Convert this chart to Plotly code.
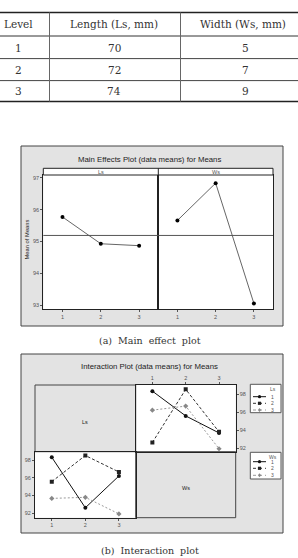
import plotly.graph_objects as go

W, H = 298, 558

# ---------------- data ----------------
table_header = ["Level", "Length (Ls, mm)", "Width (Ws, mm)"]
levels = ["1", "2", "3"]
lengths = ["70", "72", "74"]
widths = ["5", "7", "9"]

level_idx = [1, 2, 3]
main_ls = [95.77, 94.93, 94.87]
main_ws = [95.66, 96.83, 93.06]
grand_mean = 95.19

# interaction means: rows = Ls level, cols = Ws level
inter_ls1 = [98.32, 95.57, 93.68]
inter_ls2 = [92.62, 98.52, 93.80]
inter_ls3 = [96.21, 96.66, 91.93]
inter = [inter_ls1, inter_ls2, inter_ls3]
series_labels = ["1", "2", "3"]


def px(x):
    return x / W


def py(y):
    return 1 - y / H


fig = go.Figure()

BG = "#e3e3e3"
TXT = "#222222"
TICK = "#555555"
SANS = "Liberation Sans, Arial, sans-serif"
SERIF = "DejaVu Serif, serif"

styles = [
    dict(color="#111111", dash="solid", symbol="circle", mcolor="#111111"),
    dict(color="#333333", dash="3px,2px", symbol="square", mcolor="#222222"),
    dict(color="#999999", dash="2px,2px", symbol="diamond", mcolor="#888888"),
]

# ---------------- main effects ----------------
fig.add_trace(go.Scatter(x=level_idx, y=main_ls, mode="lines+markers",
                         line=dict(color="#666666", width=1),
                         marker=dict(color="#000000", size=4),
                         xaxis="x", yaxis="y", showlegend=False))
fig.add_trace(go.Scatter(x=level_idx, y=main_ws, mode="lines+markers",
                         line=dict(color="#666666", width=1),
                         marker=dict(color="#000000", size=4),
                         xaxis="x2", yaxis="y2", showlegend=False))

# ---------------- interaction ----------------
# top-right: x = Ws level, lines = Ls
for i in range(3):
    s = styles[i]
    fig.add_trace(go.Scatter(x=level_idx, y=inter[i], mode="lines+markers",
                             line=dict(color=s["color"], width=1, dash=s["dash"]),
                             marker=dict(color=s["mcolor"], size=4, symbol=s["symbol"]),
                             xaxis="x3", yaxis="y3", showlegend=False))
# bottom-left: x = Ls level, lines = Ws
for j in range(3):
    s = styles[j]
    col = [inter[i][j] for i in range(3)]
    fig.add_trace(go.Scatter(x=level_idx, y=col, mode="lines+markers",
                             line=dict(color=s["color"], width=1, dash=s["dash"]),
                             marker=dict(color=s["mcolor"], size=4, symbol=s["symbol"]),
                             xaxis="x4", yaxis="y4", showlegend=False))

tickfont = dict(family=SANS, size=5.5, color=TICK)
axcommon = dict(showgrid=False, zeroline=False, showline=True, mirror=True,
                linecolor="#222222", linewidth=1, ticks="outside", ticklen=2,
                tickcolor=TICK, tickfont=tickfont, fixedrange=True)

fig.update_layout(
    width=W, height=H, autosize=False,
    margin=dict(l=0, r=0, t=0, b=0),
    paper_bgcolor="white", plot_bgcolor="white",
    showlegend=False,
    xaxis=dict(domain=[px(43.3), px(158.3)], range=[0.5, 3.5], tickvals=level_idx,
               anchor="y", **axcommon),
    yaxis=dict(domain=[py(309.3), py(175)], range=[92.875, 97.085],
               tickvals=[93, 94, 95, 96, 97], anchor="x", **axcommon),
    xaxis2=dict(domain=[px(158.3), px(273)], range=[0.5, 3.5], tickvals=level_idx,
                anchor="y2", **axcommon),
    yaxis2=dict(domain=[py(309.3), py(175)], range=[92.875, 97.085],
                tickvals=[93, 94, 95, 96, 97], showticklabels=False, anchor="x2",
                **{**axcommon, "ticks": ""}),
    xaxis3=dict(domain=[px(135.7), px(235.7)], range=[0.5, 3.5], tickvals=level_idx,
                side="top", anchor="y3", **axcommon),
    yaxis3=dict(domain=[py(451.7), py(385)], range=[91.6, 99.0],
                tickvals=[92, 94, 96, 98], side="right", anchor="x3", **axcommon),
    xaxis4=dict(domain=[px(35), px(135.7)], range=[0.5, 3.5], tickvals=level_idx,
                anchor="y4", **axcommon),
    yaxis4=dict(domain=[py(517.7), py(451.7)], range=[91.5, 98.95],
                tickvals=[92, 94, 96, 98], anchor="x4", **axcommon),
)

shapes = []
ann = []


def rect(x0, y0, x1, y1, fill=None, color="#444444", width=1, layer="below"):
    shapes.append(dict(type="rect", xref="paper", yref="paper",
                       x0=px(x0), x1=px(x1), y0=py(y1), y1=py(y0),
                       fillcolor=fill if fill else "rgba(0,0,0,0)",
                       line=dict(color=color, width=width), layer=layer))


def hline(x0, x1, y, color="#222222", width=1):
    shapes.append(dict(type="line", xref="paper", yref="paper",
                       x0=px(x0), x1=px(x1), y0=py(y), y1=py(y),
                       line=dict(color=color, width=width)))


def vline(x, y0, y1, color="#222222", width=1):
    shapes.append(dict(type="line", xref="paper", yref="paper",
                       x0=px(x), x1=px(x), y0=py(y0), y1=py(y1),
                       line=dict(color=color, width=width)))


def text(x, y, t, size=7, family=SANS, color=TXT, angle=0, xanchor="center"):
    ann.append(dict(x=px(x), y=py(y), xref="paper", yref="paper", text=t,
                    showarrow=False, xanchor=xanchor, yanchor="middle",
                    textangle=angle, font=dict(family=family, size=size, color=color)))


# ---------------- table ----------------
hline(0, W, 12.5, color="#222222", width=1.6)
hline(0, W, 36, color="#333333", width=1)
hline(0, W, 58.6, color="#444444", width=1)
hline(0, W, 80.6, color="#444444", width=1)
hline(0, W, 101.5, color="#222222", width=1.6)
vline(49.5, 12.5, 101.5, color="#666666", width=1)
vline(180.5, 12.5, 101.5, color="#666666", width=1)

col_x = [18.5, 114.5, 243]
row_y = [47.5, 69.5, 91]
for cx, h in zip(col_x, table_header):
    text(cx, 24, h, size=10.5, family=SERIF, color="#333333")
for r in range(3):
    text(col_x[0], row_y[r], levels[r], size=10.5, family=SERIF, color="#333333")
    text(col_x[1], row_y[r], lengths[r], size=10.5, family=SERIF, color="#333333")
    text(col_x[2] + 2, row_y[r], widths[r], size=10.5, family=SERIF, color="#333333")

# ---------------- main effects frame ----------------
rect(21, 146, 283, 326, fill=BG, color="#444444", width=1)
rect(43.3, 175, 273, 309.3, fill="white", color="rgba(0,0,0,0)", width=0)
rect(43.3, 168.3, 273, 175, fill="white", color="#222222", width=1, layer="above")
vline(158.3, 168.3, 309.3)
text(100.8, 171.8, "Ls", size=5.5, color=TICK)
text(215.7, 171.8, "Ws", size=5.5, color=TICK)
text(149.5, 159.5, "Main Effects Plot (data means) for Means", size=7.8)
text(26.5, 240, "Mean of Means", size=5.8, angle=-90)
for xr in ["x", "x2"]:
    shapes.append(dict(type="line", xref=f"{xr} domain", yref="y" if xr == "x" else "y2",
                       x0=0, x1=1, y0=grand_mean, y1=grand_mean,
                       line=dict(color="#555555", width=1)))

text(150, 340.5, "(a)  Main  effect  plot", size=9.5, family=SERIF, color="#333333")

# ---------------- interaction frame ----------------
rect(21, 354, 283, 533, fill=BG, color="#444444", width=1)
rect(135.7, 385, 235.7, 451.7, fill="white", color="rgba(0,0,0,0)", width=0)
rect(35, 451.7, 135.7, 517.7, fill="white", color="rgba(0,0,0,0)", width=0)
rect(35, 385, 135.7, 451.7, fill=BG, color="#444444", width=1)
rect(135.7, 451.7, 235.7, 517.7, fill=BG, color="#444444", width=1)
text(85.3, 421.7, "Ls", size=5.5, color=TXT)
text(185.7, 488.3, "Ws", size=5.5, color=TXT)
text(149.5, 366.7, "Interaction Plot (data means) for Means", size=7.8)


# legends (drawn as decorations)
def legend_box(y0, y1, title, ys):
    rect(250.3, y0, 281, y1, fill="white", color="#555555", width=1, layer="above")
    text(273, y0 + 4.3, title, size=5, color=TICK)
    for k, yy in enumerate(ys):
        s = styles[k]
        shapes.append(dict(type="line", xref="paper", yref="paper",
                           x0=px(253), x1=px(266), y0=py(yy), y1=py(yy),
                           line=dict(color=s["color"], width=1,
                                     dash="solid" if s["dash"] == "solid" else "dot")))
        cx, cy, r = 259.5, yy, 1.6
        if s["symbol"] == "circle":
            shapes.append(dict(type="circle", xref="paper", yref="paper",
                               x0=px(cx - r), x1=px(cx + r), y0=py(cy + r), y1=py(cy - r),
                               fillcolor=s["mcolor"], line=dict(width=0)))
        elif s["symbol"] == "square":
            shapes.append(dict(type="rect", xref="paper", yref="paper",
                               x0=px(cx - r), x1=px(cx + r), y0=py(cy + r), y1=py(cy - r),
                               fillcolor=s["mcolor"], line=dict(width=0)))
        else:
            shapes.append(dict(type="path", xref="paper", yref="paper",
                               path=(f"M {px(cx)} {py(cy - r - 0.4)} L {px(cx + r)} {py(cy)} "
                                     f"L {px(cx)} {py(cy + r + 0.4)} L {px(cx - r)} {py(cy)} Z"),
                               fillcolor=s["mcolor"], line=dict(width=0)))
        text(272.5, yy, series_labels[k], size=5, color=TICK)


legend_box(384.3, 412.7, "Ls", [396.7, 403.3, 410])
legend_box(452.3, 479, "Ws", [461.7, 468.3, 475.3])

text(150, 550, "(b)  Interaction  plot", size=9.5, family=SERIF, color="#333333")

fig.update_layout(shapes=shapes, annotations=ann)
fig.write_html("out.html")
